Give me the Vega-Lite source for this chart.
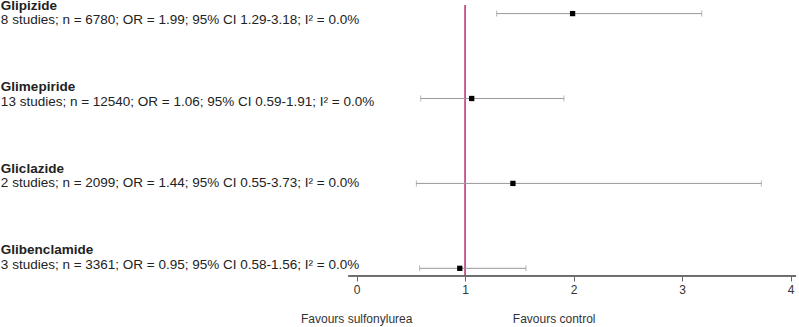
{
  "$schema": "https://vega.github.io/schema/vega-lite/v6.json",
  "width": 799,
  "height": 327,
  "autosize": {"type": "none"},
  "padding": 0,
  "config": {"view": {"stroke": null}, "font": "Liberation Sans"},
  "datasets": {
    "forest": [
      {"drug": "Glipizide", "row": 1, "desc": "8 studies; n = 6780; OR = 1.99; 95% CI 1.29-3.18; I² = 0.0%", "or": 1.99, "lo": 1.29, "hi": 3.18},
      {"drug": "Glimepiride", "row": 2, "desc": "13 studies; n = 12540; OR = 1.06; 95% CI 0.59-1.91; I² = 0.0%", "or": 1.06, "lo": 0.59, "hi": 1.91},
      {"drug": "Gliclazide", "row": 3, "desc": "2 studies; n = 2099; OR = 1.44; 95% CI 0.55-3.73; I² = 0.0%", "or": 1.44, "lo": 0.55, "hi": 3.73},
      {"drug": "Glibenclamide", "row": 4, "desc": "3 studies; n = 3361; OR = 0.95; 95% CI 0.58-1.56; I² = 0.0%", "or": 0.95, "lo": 0.58, "hi": 1.56}
    ],
    "notes": [
      {"label": "Favours sulfonylurea", "pos": 0, "row": 4.663},
      {"label": "Favours control", "pos": 1.82, "row": 4.663}
    ]
  },
  "layer": [
    {
      "data": {"name": "forest"},
      "encoding": {
        "y": {"field": "row", "type": "quantitative", "scale": {"domain": [0.84, 4.691], "reverse": true, "nice": false, "zero": false}, "axis": null}
      },
      "layer": [
        {
          "mark": {"type": "rule", "color": "#c8508c", "strokeWidth": 1.1},
          "encoding": {
            "x": {"datum": 1, "type": "quantitative", "scale": {"domain": [-3.288, 4.077], "nice": false, "zero": false},
              "axis": {"values": [0, 1, 2, 3, 4], "format": "d", "domain": false, "grid": false, "title": null, "offset": -51, "tickColor": "#666", "tickSize": 5, "labelFontSize": 12, "labelColor": "#333", "labelPadding": 3}},
            "y": {"datum": 0.9},
            "y2": {"datum": 4.09}
          }
        },
        {
          "mark": {"type": "rule", "color": "#666", "strokeWidth": 1},
          "encoding": {
            "x": {"datum": -0.077, "type": "quantitative"},
            "x2": {"datum": 4.05},
            "y": {"datum": 4.09}
          }
        },
        {
          "mark": {"type": "rule", "color": "#999", "strokeWidth": 1},
          "encoding": {
            "x": {"field": "lo", "type": "quantitative"},
            "x2": {"field": "hi"}
          }
        },
        {
          "mark": {"type": "tick", "orient": "vertical", "color": "#999", "size": 6, "thickness": 1},
          "encoding": {"x": {"field": "lo", "type": "quantitative"}}
        },
        {
          "mark": {"type": "tick", "orient": "vertical", "color": "#999", "size": 6, "thickness": 1},
          "encoding": {"x": {"field": "hi", "type": "quantitative"}}
        },
        {
          "mark": {"type": "point", "shape": "square", "filled": true, "color": "#000", "size": 28, "opacity": 1},
          "encoding": {"x": {"field": "or", "type": "quantitative"}}
        }
      ]
    },
    {
      "encoding": {
        "y": {"field": "row", "type": "quantitative", "scale": {"domain": [0.749, 4.761], "reverse": true, "nice": false, "zero": false}, "axis": null}
      },
      "layer": [
        {
          "data": {"name": "forest"},
          "mark": {"type": "text", "fontSize": 13.5, "color": "#222", "align": "left", "baseline": "middle"},
          "encoding": {"x": {"datum": -3.28, "type": "quantitative"}, "text": {"field": "desc"}}
        },
        {
          "data": {"name": "forest"},
          "mark": {"type": "text", "fontSize": 13.5, "fontWeight": "bold", "color": "#222", "align": "left", "baseline": "middle", "dy": -14.5},
          "encoding": {"x": {"datum": -3.28, "type": "quantitative"}, "text": {"field": "drug"}}
        },
        {
          "data": {"name": "notes"},
          "mark": {"type": "text", "fontSize": 12, "color": "#333", "align": "center", "baseline": "middle"},
          "encoding": {
            "x": {"field": "pos", "type": "quantitative"},
            "text": {"field": "label"}
          }
        }
      ]
    }
  ],
  "resolve": {"scale": {"y": "independent"}}
}
